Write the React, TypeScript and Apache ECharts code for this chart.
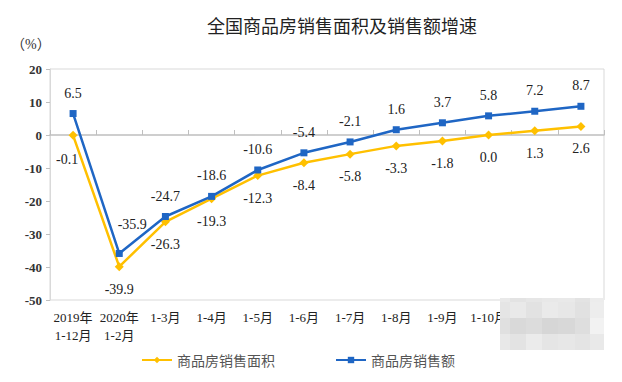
import React, { useEffect, useRef } from "react";
import * as echarts from "echarts";

const categories = [
  "2019年\n1-12月",
  "2020年\n1-2月",
  "1-3月",
  "1-4月",
  "1-5月",
  "1-6月",
  "1-7月",
  "1-8月",
  "1-9月",
  "1-10月",
  "1-11月",
  "1-12月",
];
const areaGrowth = [-0.1, -39.9, -26.3, -19.3, -12.3, -8.4, -5.8, -3.3, -1.8, 0.0, 1.3, 2.6];
const salesGrowth = [6.5, -35.9, -24.7, -18.6, -10.6, -5.4, -2.1, 1.6, 3.7, 5.8, 7.2, 8.7];
const seriesNames = ["商品房销售面积", "商品房销售额"];
const yTicks = { min: -50, max: 20, interval: 10 };

const SERIF = '"Liberation Serif", "Times New Roman", "Noto Sans CJK SC", serif';
const CJK = '"Noto Sans CJK SC", sans-serif';

const mosaicCols = [500, 510, 526, 542, 558, 575, 590, 604];
const mosaicRows = [298, 302, 318, 334, 350];
const mosaicShades = [
  ["#e9e9e9", "#e3e3e3", "#e6e6e6", "#e8e8e8", "#e9e9e9", "#e3e3e3", "#ececec"],
  ["#e5e5e5", "#e9e9e9", "#e2e2e2", "#eaeaea", "#e7e7e7", "#e1e1e1", "#ededed"],
  ["#e0e0e0", "#d9d9d9", "#dcdcdc", "#d6d6d6", "#d8d8d8", "#dedede", "#f2f2f2"],
  ["#e8e8e8", "#e3e3e3", "#ebebeb", "#e5e5e5", "#e7e7e7", "#e4e4e4", "#e9e9e9"],
];

export default function App() {
  const ref = useRef<HTMLDivElement>(null);
  useEffect(() => {
    if (!ref.current) return;
    const chart = echarts.init(ref.current, null, { renderer: "svg" });
    const mosaic: any[] = [];
    for (let r = 0; r < mosaicRows.length - 1; r++) {
      for (let c = 0; c < mosaicCols.length - 1; c++) {
        mosaic.push({
          type: "rect",
          shape: {
            x: mosaicCols[c],
            y: mosaicRows[r],
            width: mosaicCols[c + 1] - mosaicCols[c],
            height: mosaicRows[r + 1] - mosaicRows[r],
          },
          style: { fill: mosaicShades[r][c] },
          z: 100,
        });
      }
    }
    const labelStyle = { fontFamily: SERIF, fontSize: 14, color: "#222" };
    chart.setOption({
      animation: false,
      backgroundColor: "#ffffff",
      title: {
        text: "全国商品房销售面积及销售额增速",
        left: 337,
        textAlign: "center",
        top: 11,
        textStyle: { fontFamily: CJK, fontSize: 18, fontWeight: "normal", color: "#222" },
      },
      graphic: [
        {
          type: "text",
          x: 11,
          y: 37,
          style: { text: "（%）", font: `14px ${SERIF}`, fill: "#333" },
        },
        ...mosaic,
      ],
      legend: {
        bottom: 10,
        left: 136,
        itemWidth: 30,
        itemHeight: 8,
        itemGap: 60,
        textStyle: { fontFamily: CJK, fontSize: 14, color: "#555" },
        data: seriesNames,
      },
      grid: {
        left: 50,
        right: 18,
        top: 69,
        bottom: 82,
        show: true,
        borderColor: "#d9d9d9",
        borderWidth: 1,
      },
      xAxis: {
        type: "category",
        data: categories,
        boundaryGap: true,
        axisLine: { lineStyle: { color: "#bfbfbf", width: 1.5 } },
        axisTick: { show: true, inside: true, length: 5, lineStyle: { color: "#bfbfbf" } },
        axisLabel: {
          interval: 0,
          fontFamily: SERIF,
          fontSize: 13,
          color: "#222",
          lineHeight: 18,
          margin: 8,
        },
      },
      yAxis: {
        type: "value",
        min: yTicks.min,
        max: yTicks.max,
        interval: yTicks.interval,
        splitLine: { show: false },
        axisLine: { show: true, lineStyle: { color: "#d9d9d9" } },
        axisTick: { show: true, length: 4, lineStyle: { color: "#bfbfbf" } },
        axisLabel: { fontFamily: SERIF, fontSize: 13, fontWeight: "bold", color: "#333", margin: 8 },
      },
      series: [
        {
          name: seriesNames[0],
          type: "line",
          data: areaGrowth.map((v, i) =>
            i === 0
              ? { value: v, label: { offset: [-6, 2] } }
              : v === 0
              ? { value: v, label: { formatter: "0.0" } }
              : v
          ),
          color: "#FFC000",
          lineStyle: { width: 2.5, color: "#FFC000" },
          symbol: "diamond",
          symbolSize: 9,
          label: { show: true, position: "bottom", distance: 11, ...labelStyle },
          z: 3,
        },
        {
          name: seriesNames[1],
          type: "line",
          data: salesGrowth.map((v, i) => (i === 1 ? { value: v, label: { offset: [13, -8] } } : v)),
          color: "#1F66C4",
          lineStyle: { width: 2.5, color: "#1F66C4" },
          symbol: "rect",
          symbolSize: 7,
          label: { show: true, position: "top", distance: 10, ...labelStyle },
          z: 4,
        },
      ],
    });
    return () => chart.dispose();
  }, []);
  return <div ref={ref} style={{ width: 622, height: 382, position: "absolute", left: 0, top: 0 }} />;
}
